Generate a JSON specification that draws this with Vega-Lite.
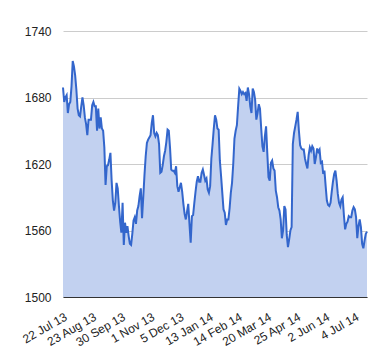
{
  "$schema": "https://vega.github.io/schema/vega-lite/v6.json",
  "autosize": {"type": "none"},
  "width": 304,
  "height": 266,
  "padding": {"left": 63, "top": 31, "right": 13, "bottom": 63},
  "background": "#ffffff",
  "config": {
    "view": {"stroke": null},
    "font": "Liberation Sans",
    "axis": {"labelFont": "Liberation Sans", "labelFontSize": 12, "labelColor": "#222222"}
  },
  "data": {"values": [
{"date":"2013-07-22","v":1689},{"date":"2013-07-23","v":1676},{"date":"2013-07-24","v":1680},{"date":"2013-07-25","v":1682},{"date":"2013-07-26","v":1666},
{"date":"2013-07-29","v":1674},{"date":"2013-07-30","v":1676},{"date":"2013-07-31","v":1690},{"date":"2013-08-01","v":1713},{"date":"2013-08-02","v":1708},
{"date":"2013-08-05","v":1700},{"date":"2013-08-06","v":1687},{"date":"2013-08-07","v":1670},{"date":"2013-08-08","v":1664},{"date":"2013-08-09","v":1663},
{"date":"2013-08-12","v":1672},{"date":"2013-08-13","v":1680},{"date":"2013-08-14","v":1673},{"date":"2013-08-15","v":1662},{"date":"2013-08-16","v":1656},
{"date":"2013-08-19","v":1646},{"date":"2013-08-20","v":1660},{"date":"2013-08-21","v":1660},{"date":"2013-08-22","v":1660},{"date":"2013-08-23","v":1673},
{"date":"2013-08-28","v":1676},{"date":"2013-08-29","v":1672},{"date":"2013-08-30","v":1672},
{"date":"2013-09-02","v":1650},{"date":"2013-09-03","v":1670},{"date":"2013-09-04","v":1652},{"date":"2013-09-05","v":1662},{"date":"2013-09-06","v":1652},
{"date":"2013-09-09","v":1650},{"date":"2013-09-10","v":1635},{"date":"2013-09-11","v":1601},{"date":"2013-09-12","v":1618},{"date":"2013-09-13","v":1619},
{"date":"2013-09-16","v":1624},{"date":"2013-09-17","v":1630},{"date":"2013-09-18","v":1605},{"date":"2013-09-19","v":1587},{"date":"2013-09-20","v":1578},
{"date":"2013-09-23","v":1585},{"date":"2013-09-24","v":1603},{"date":"2013-09-25","v":1598},{"date":"2013-09-26","v":1582},{"date":"2013-09-27","v":1568},
{"date":"2013-09-30","v":1558},{"date":"2013-10-01","v":1585},{"date":"2013-10-02","v":1547},{"date":"2013-10-03","v":1567},{"date":"2013-10-04","v":1558},
{"date":"2013-10-07","v":1564},{"date":"2013-10-08","v":1555},{"date":"2013-10-09","v":1548},{"date":"2013-10-10","v":1547},{"date":"2013-10-11","v":1557},
{"date":"2013-10-14","v":1569},{"date":"2013-10-15","v":1572},{"date":"2013-10-16","v":1566},{"date":"2013-10-17","v":1578},{"date":"2013-10-18","v":1582},
{"date":"2013-10-21","v":1591},{"date":"2013-10-22","v":1598},{"date":"2013-10-23","v":1571},{"date":"2013-10-24","v":1590},{"date":"2013-10-25","v":1610},
{"date":"2013-10-28","v":1627},{"date":"2013-10-29","v":1639},{"date":"2013-10-30","v":1642},{"date":"2013-10-31","v":1644},{"date":"2013-11-01","v":1646},
{"date":"2013-11-04","v":1657},{"date":"2013-11-05","v":1664},{"date":"2013-11-06","v":1648},{"date":"2013-11-07","v":1645},{"date":"2013-11-08","v":1648},
{"date":"2013-11-11","v":1646},{"date":"2013-11-12","v":1638},{"date":"2013-11-13","v":1612},{"date":"2013-11-14","v":1613},{"date":"2013-11-15","v":1619},
{"date":"2013-11-18","v":1627},{"date":"2013-11-19","v":1632},{"date":"2013-11-20","v":1640},{"date":"2013-11-21","v":1651},{"date":"2013-11-22","v":1650},
{"date":"2013-11-25","v":1635},{"date":"2013-11-26","v":1615},{"date":"2013-11-27","v":1614},{"date":"2013-11-28","v":1614},{"date":"2013-11-29","v":1612},
{"date":"2013-12-02","v":1618},{"date":"2013-12-03","v":1600},{"date":"2013-12-04","v":1595},{"date":"2013-12-05","v":1599},{"date":"2013-12-06","v":1603},
{"date":"2013-12-09","v":1595},{"date":"2013-12-10","v":1584},{"date":"2013-12-11","v":1575},{"date":"2013-12-12","v":1570},{"date":"2013-12-13","v":1577},
{"date":"2013-12-16","v":1584},{"date":"2013-12-17","v":1566},{"date":"2013-12-18","v":1549},{"date":"2013-12-19","v":1573},{"date":"2013-12-20","v":1574},
{"date":"2013-12-23","v":1585},{"date":"2013-12-24","v":1595},{"date":"2013-12-27","v":1604},
{"date":"2013-12-30","v":1609},{"date":"2013-12-31","v":1604},{"date":"2014-01-02","v":1604},{"date":"2014-01-03","v":1612},
{"date":"2014-01-06","v":1615},{"date":"2014-01-07","v":1610},{"date":"2014-01-08","v":1605},{"date":"2014-01-09","v":1607},{"date":"2014-01-10","v":1597},
{"date":"2014-01-13","v":1594},{"date":"2014-01-14","v":1600},{"date":"2014-01-15","v":1625},{"date":"2014-01-16","v":1638},{"date":"2014-01-17","v":1652},
{"date":"2014-01-20","v":1664},{"date":"2014-01-21","v":1660},{"date":"2014-01-22","v":1652},{"date":"2014-01-23","v":1651},{"date":"2014-01-24","v":1623},
{"date":"2014-01-27","v":1609},{"date":"2014-01-28","v":1594},{"date":"2014-01-29","v":1579},{"date":"2014-01-30","v":1576},{"date":"2014-01-31","v":1565},
{"date":"2014-02-03","v":1570},{"date":"2014-02-04","v":1570},{"date":"2014-02-05","v":1580},{"date":"2014-02-06","v":1594},{"date":"2014-02-07","v":1603},
{"date":"2014-02-10","v":1620},{"date":"2014-02-11","v":1643},{"date":"2014-02-12","v":1650},{"date":"2014-02-13","v":1655},{"date":"2014-02-14","v":1672},
{"date":"2014-02-17","v":1688},{"date":"2014-02-18","v":1686},{"date":"2014-02-19","v":1683},{"date":"2014-02-20","v":1685},{"date":"2014-02-21","v":1683},
{"date":"2014-02-24","v":1684},{"date":"2014-02-25","v":1677},{"date":"2014-02-26","v":1689},{"date":"2014-02-27","v":1683},{"date":"2014-02-28","v":1672},
{"date":"2014-03-03","v":1666},{"date":"2014-03-04","v":1688},{"date":"2014-03-05","v":1685},{"date":"2014-03-06","v":1678},{"date":"2014-03-07","v":1660},
{"date":"2014-03-10","v":1666},{"date":"2014-03-11","v":1674},{"date":"2014-03-12","v":1670},{"date":"2014-03-13","v":1652},{"date":"2014-03-14","v":1636},
{"date":"2014-03-17","v":1631},{"date":"2014-03-18","v":1645},{"date":"2014-03-19","v":1654},{"date":"2014-03-20","v":1630},{"date":"2014-03-21","v":1608},
{"date":"2014-03-24","v":1605},{"date":"2014-03-25","v":1621},{"date":"2014-03-26","v":1623},{"date":"2014-03-27","v":1616},{"date":"2014-03-28","v":1614},
{"date":"2014-03-31","v":1596},{"date":"2014-04-01","v":1590},{"date":"2014-04-02","v":1581},{"date":"2014-04-03","v":1578},{"date":"2014-04-04","v":1570},
{"date":"2014-04-07","v":1553},{"date":"2014-04-08","v":1560},{"date":"2014-04-09","v":1582},{"date":"2014-04-10","v":1579},{"date":"2014-04-11","v":1556},
{"date":"2014-04-14","v":1545},{"date":"2014-04-15","v":1552},{"date":"2014-04-16","v":1560},{"date":"2014-04-17","v":1563},
{"date":"2014-04-22","v":1638},{"date":"2014-04-23","v":1648},{"date":"2014-04-24","v":1654},{"date":"2014-04-25","v":1660},
{"date":"2014-04-28","v":1667},{"date":"2014-04-29","v":1650},{"date":"2014-04-30","v":1637},{"date":"2014-05-01","v":1634},{"date":"2014-05-02","v":1633},
{"date":"2014-05-06","v":1633},{"date":"2014-05-07","v":1625},{"date":"2014-05-08","v":1620},{"date":"2014-05-09","v":1616},
{"date":"2014-05-12","v":1628},{"date":"2014-05-13","v":1635},{"date":"2014-05-14","v":1632},{"date":"2014-05-15","v":1636},{"date":"2014-05-16","v":1634},
{"date":"2014-05-19","v":1620},{"date":"2014-05-20","v":1626},{"date":"2014-05-21","v":1634},{"date":"2014-05-22","v":1631},{"date":"2014-05-23","v":1633},
{"date":"2014-05-27","v":1621},{"date":"2014-05-28","v":1622},{"date":"2014-05-29","v":1611},{"date":"2014-05-30","v":1614},
{"date":"2014-06-02","v":1600},{"date":"2014-06-03","v":1587},{"date":"2014-06-04","v":1583},{"date":"2014-06-05","v":1582},{"date":"2014-06-06","v":1585},
{"date":"2014-06-09","v":1595},{"date":"2014-06-10","v":1604},{"date":"2014-06-11","v":1611},{"date":"2014-06-12","v":1614},{"date":"2014-06-13","v":1605},
{"date":"2014-06-16","v":1593},{"date":"2014-06-17","v":1585},{"date":"2014-06-18","v":1582},{"date":"2014-06-19","v":1588},{"date":"2014-06-20","v":1590},
{"date":"2014-06-23","v":1574},{"date":"2014-06-24","v":1561},{"date":"2014-06-25","v":1566},{"date":"2014-06-26","v":1568},{"date":"2014-06-27","v":1573},
{"date":"2014-06-30","v":1572},{"date":"2014-07-01","v":1572},{"date":"2014-07-02","v":1578},{"date":"2014-07-03","v":1581},{"date":"2014-07-04","v":1579},
{"date":"2014-07-07","v":1572},{"date":"2014-07-08","v":1553},{"date":"2014-07-09","v":1564},{"date":"2014-07-10","v":1570},{"date":"2014-07-11","v":1563},
{"date":"2014-07-14","v":1548},{"date":"2014-07-15","v":1544},{"date":"2014-07-16","v":1551},{"date":"2014-07-17","v":1557},{"date":"2014-07-18","v":1559}
  ]},
  "encoding": {
    "x": {
      "field": "date", "type": "ordinal", "sort": null,
      "scale": {"type": "point", "padding": 0},
      "axis": {
        "title": null,
        "values": ["2013-07-22","2013-08-23","2013-09-30","2013-11-01","2013-12-05","2014-01-13","2014-02-14","2014-03-20","2014-04-25","2014-06-02","2014-07-04"],
        "labelExpr": "utcFormat(toDate(datum.value), '%-d %b %y')",
        "labelAngle": -30, "labelAlign": "right", "labelBaseline": "top",
        "labelPadding": 14, "ticks": false, "grid": false,
        "domain": true, "domainColor": "#333333", "domainWidth": 1, "zindex": 1
      }
    },
    "y": {
      "field": "v", "type": "quantitative",
      "scale": {"domain": [1500, 1740], "nice": false, "zero": false},
      "axis": {
        "title": null, "values": [1500, 1560, 1620, 1680, 1740], "format": "d",
        "domain": false, "ticks": false, "labelPadding": 12,
        "gridColor": "#cccccc", "gridWidth": 1
      }
    }
  },
  "layer": [
    {"mark": {"type": "area", "color": "#c2d1f0"}, "encoding": {"y2": {"datum": 1500}}},
    {"mark": {"type": "line", "color": "#3366cc", "strokeWidth": 2}, "encoding": {}}
  ]
}
